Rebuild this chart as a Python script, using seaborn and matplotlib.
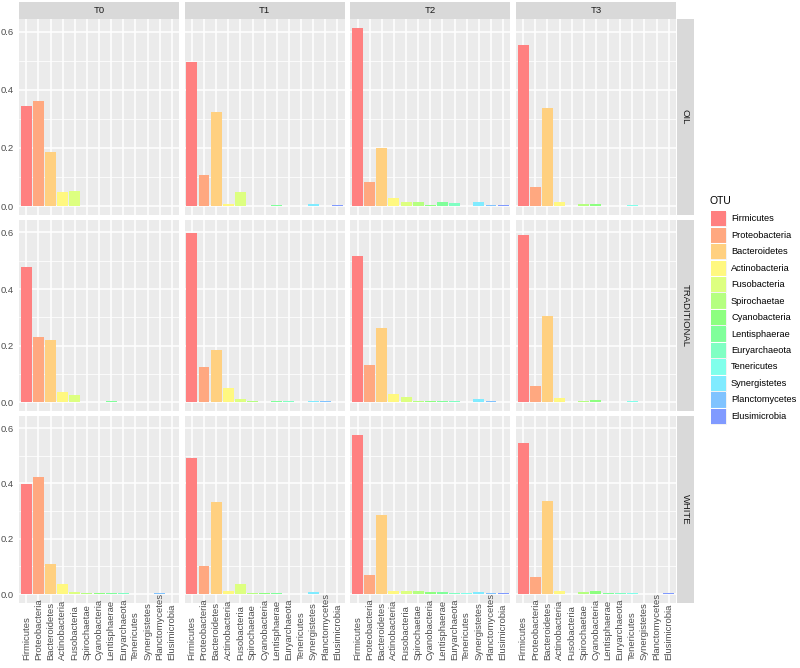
import colorsys
import numpy as np
import pandas as pd
import matplotlib
matplotlib.use("Agg")
import matplotlib.pyplot as plt
from matplotlib.patches import Rectangle
import seaborn as sns

otus = ["Firmicutes", "Proteobacteria", "Bacteroidetes", "Actinobacteria",
        "Fusobacteria", "Spirochaetae", "Cyanobacteria", "Lentisphaerae",
        "Euryarchaeota", "Tenericutes", "Synergistetes", "Planctomycetes",
        "Elusimicrobia"]
times = ["T0", "T1", "T2", "T3"]
groups = ["OIL", "TRADITIONAL", "WHITE"]

oil_t0 = [0.345, 0.361, 0.186, 0.048, 0.053, 0.001, 0.001, 0.001, 0.001, 0.001, 0.001, 0.001, 0.001]
oil_t1 = [0.497, 0.107, 0.323, 0.006, 0.047, 0.002, 0.001, 0.004, 0.001, 0.002, 0.006, 0.001, 0.003]
oil_t2 = [0.613, 0.082, 0.199, 0.028, 0.014, 0.015, 0.003, 0.013, 0.009, 0.002, 0.015, 0.004, 0.003]
oil_t3 = [0.554, 0.064, 0.337, 0.014, 0.002, 0.008, 0.008, 0.002, 0.002, 0.004, 0.002, 0.001, 0.001]
trad_t0 = [0.478, 0.230, 0.220, 0.038, 0.026, 0.001, 0.002, 0.003, 0.001, 0.001, 0.002, 0.001, 0.001]
trad_t1 = [0.598, 0.123, 0.183, 0.050, 0.012, 0.004, 0.002, 0.004, 0.005, 0.001, 0.006, 0.003, 0.001]
trad_t2 = [0.516, 0.133, 0.261, 0.030, 0.020, 0.004, 0.003, 0.004, 0.003, 0.001, 0.013, 0.004, 0.001]
trad_t3 = [0.592, 0.057, 0.306, 0.016, 0.001, 0.006, 0.009, 0.001, 0.001, 0.006, 0.001, 0.001, 0.001]
white_t0 = [0.397, 0.422, 0.107, 0.038, 0.007, 0.004, 0.003, 0.002, 0.003, 0.001, 0.001, 0.002, 0.001]
white_t1 = [0.490, 0.100, 0.334, 0.011, 0.035, 0.004, 0.002, 0.003, 0.001, 0.001, 0.009, 0.001, 0.001]
white_t2 = [0.576, 0.068, 0.287, 0.012, 0.010, 0.010, 0.008, 0.008, 0.003, 0.002, 0.008, 0.002, 0.003]
white_t3 = [0.546, 0.063, 0.338, 0.012, 0.001, 0.006, 0.010, 0.003, 0.003, 0.003, 0.001, 0.001, 0.003]

values = {
    ("OIL", "T0"): oil_t0, ("OIL", "T1"): oil_t1, ("OIL", "T2"): oil_t2, ("OIL", "T3"): oil_t3,
    ("TRADITIONAL", "T0"): trad_t0, ("TRADITIONAL", "T1"): trad_t1,
    ("TRADITIONAL", "T2"): trad_t2, ("TRADITIONAL", "T3"): trad_t3,
    ("WHITE", "T0"): white_t0, ("WHITE", "T1"): white_t1, ("WHITE", "T2"): white_t2, ("WHITE", "T3"): white_t3,
}

rows = []
for (g, t), vals in values.items():
    for o, v in zip(otus, vals):
        rows.append({"group": g, "time": t, "OTU": o, "value": v})
df = pd.DataFrame(rows)

# rainbow-like pastel palette
colors = [colorsys.hsv_to_rgb(i / 19.0, 0.5, 1.0) for i in range(len(otus))]
palette = dict(zip(otus, colors))

sns.set_theme(style="darkgrid")
plt.rcParams["font.family"] = ["Liberation Sans", "DejaVu Sans"]
plt.rcParams["patch.edgecolor"] = "none"

W, H = 800, 668
DPI = 100
fig = plt.figure(figsize=(W / DPI, H / DPI), dpi=DPI)
fig.patch.set_facecolor("white")

def px(x0, y0, x1, y1):
    return [x0 / W, 1 - y1 / H, (x1 - x0) / W, (y1 - y0) / H]

left, right = 19, 676
gap = 5.5
pw = (right - left - 3 * gap) / 4
row_spans = [(19, 215), (220, 411), (416, 602.5)]
bottom = row_spans[-1][1]
ymax = max(max(v) for v in values.values())
ylo, yhi = -0.05 * ymax, ymax * 1.05

FS = 6.8
tick_len_px = 3.0
label_bottom_px = 660.0
xpad_pt = (label_bottom_px - bottom - tick_len_px) * 72 / DPI

for ri, g in enumerate(groups):
    y0, y1 = row_spans[ri]
    for ci, t in enumerate(times):
        x0 = left + ci * (pw + gap)
        ax = fig.add_axes(px(x0, y0, x0 + pw, y1))
        sub = df[(df.group == g) & (df.time == t)]
        sns.barplot(data=sub, x="OTU", y="value", hue="OTU", order=otus,
                    hue_order=otus, palette=palette, saturation=1, width=0.9,
                    legend=False, ax=ax, edgecolor="none", linewidth=0, zorder=3)
        ax.set_facecolor("#EBEBEB")
        ax.set_xlim(-0.6, len(otus) - 0.4)
        ax.set_ylim(ylo, yhi)
        ax.set_yticks([0.0, 0.2, 0.4, 0.6])
        ax.set_yticks([0.1, 0.3, 0.5], minor=True)
        ax.set_xticks(range(len(otus)))
        ax.grid(which="major", color="white", lw=1.1, zorder=0)
        ax.grid(which="minor", axis="y", color="white", lw=0.55, zorder=0)
        ax.set_axisbelow(True)
        for s in ax.spines.values():
            s.set_visible(False)
        ax.set_xlabel("")
        ax.set_ylabel("")
        if ri == len(groups) - 1:
            ax.set_xticklabels(otus, rotation=90, fontsize=FS, color="#4D4D4D",
                               va="bottom", ha="center")
            ax.tick_params(axis="x", length=tick_len_px * 72 / DPI, width=0.8,
                           color="#333333", pad=xpad_pt)
        else:
            ax.set_xticklabels([])
            ax.tick_params(axis="x", length=0)
        if ci == 0:
            ax.set_yticklabels(["0.0", "0.2", "0.4", "0.6"], fontsize=FS, color="#4D4D4D")
            ax.tick_params(axis="y", which="major", length=tick_len_px * 72 / DPI,
                           width=0.8, color="#333333", pad=1.5)
        else:
            ax.set_yticklabels([])
            ax.tick_params(axis="y", which="major", length=0)
        ax.tick_params(axis="y", which="minor", length=0)
        if ri == 0:
            sax = fig.add_axes(px(x0, 2, x0 + pw, 18.5))
            sax.set_facecolor("#D9D9D9")
            sax.set_xticks([]); sax.set_yticks([])
            for s in sax.spines.values():
                s.set_visible(False)
            sax.text(0.5, 0.5, t, ha="center", va="center", fontsize=FS,
                     color="#1A1A1A", transform=sax.transAxes)
        if ci == len(times) - 1:
            sax = fig.add_axes(px(677, y0, 693.5, y1))
            sax.set_facecolor("#D9D9D9")
            sax.set_xticks([]); sax.set_yticks([])
            for s in sax.spines.values():
                s.set_visible(False)
            sax.text(0.5, 0.5, g, ha="center", va="center", fontsize=FS,
                     rotation=-90, color="#1A1A1A", transform=sax.transAxes)

# legend
lax = fig.add_axes([0, 0, 1, 1])
lax.set_xlim(0, W)
lax.set_ylim(H, 0)
lax.axis("off")
lax.text(710, 201, "OTU", ha="left", va="center", fontsize=7.5, color="black")
ky0 = 210.5
kh = 16.47
for i, o in enumerate(otus):
    y = ky0 + i * kh
    lax.add_patch(Rectangle((710, y), 16.5, kh, facecolor="#F2F2F2", edgecolor="white", lw=0.8))
    lax.add_patch(Rectangle((710.6, y + 0.6), 15.3, kh - 1.2, facecolor=palette[o], edgecolor="none"))
    lax.text(731, y + kh / 2, o, ha="left", va="center", fontsize=6.7, color="black")

fig.savefig("out.png", dpi=DPI)
